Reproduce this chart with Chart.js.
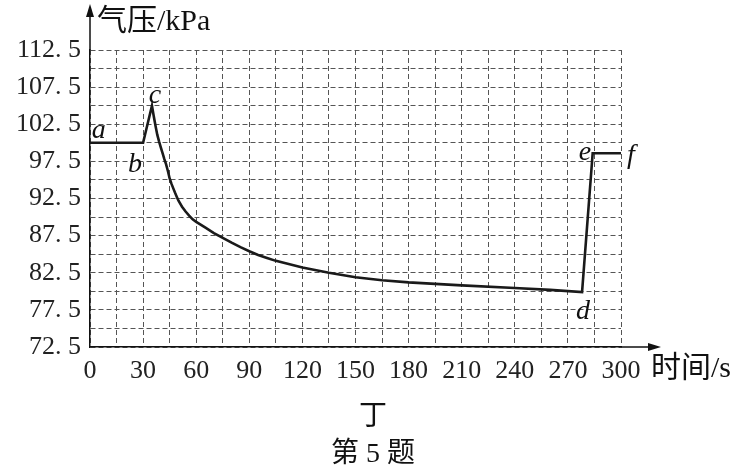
<!DOCTYPE html>
<html>
<head>
<meta charset="utf-8">
<script src="https://cdn.jsdelivr.net/npm/chart.js@4.4.1/dist/chart.umd.min.js"></script>
<style>
  body { margin: 0; background: #fff; }
  #wrap { width: 750px; height: 471px; }
</style>
</head>
<body>
<div id="wrap"><canvas id="pressureChart"></canvas></div>
<script>
// time (s) and pressure (kPa)
const timeSec = [0, 30, 35, 36, 37, 38, 39, 40, 41, 42, 43, 44, 45, 46, 47, 48, 49, 50, 52, 54, 56, 58, 60, 65, 70, 75, 80, 85, 90, 95, 100, 105, 120, 135, 150, 165, 180, 195, 210, 240, 260, 278, 284, 300];
const pressureKpa = [100, 100, 105, 103.6, 102.3, 101.1, 100.2, 99.4, 98.6, 97.8, 97.1, 96.2, 95.2, 94.5, 93.9, 93.3, 92.75, 92.2, 91.4, 90.75, 90.2, 89.7, 89.35, 88.6, 87.85, 87.2, 86.55, 85.95, 85.4, 84.9, 84.5, 84.1, 83.2, 82.5, 81.9, 81.5, 81.2, 81.0, 80.8, 80.45, 80.2, 79.9, 98.6, 98.6];

const xTickLabels = ['0', '30', '60', '90', '120', '150', '180', '210', '240', '270', '300'];
const yTickLabels = ['72. 5', '77. 5', '82. 5', '87. 5', '92. 5', '97. 5', '102. 5', '107. 5', '112. 5'];

// letters next to the turning points, placed in data units
const pointNames = ['a', 'b', 'c', 'd', 'e', 'f'];
const pointNameAt = [[5, 101.6], [25.4, 97.0], [36.7, 106.3], [278.5, 77.2], [279.7, 98.7], [305.6, 98.3]];

const numFont = "'Liberation Serif', 'DejaVu Serif', serif";
const cjkFont = "'Liberation Serif', 'Noto Sans CJK SC', serif";

const axisExtras = {
    id: 'axisExtras',
    afterDraw(chart) {
        const ctx = chart.ctx;
        const { left, top, right, bottom } = chart.chartArea;
        const xs = chart.scales.x, ys = chart.scales.y;
        ctx.save();
        ctx.strokeStyle = '#111';
        ctx.fillStyle = '#111';
        ctx.lineWidth = 1.5;
        // axis extensions + arrow heads
        ctx.beginPath();
        ctx.moveTo(left, top);
        ctx.lineTo(left, 14);
        ctx.moveTo(right, bottom);
        ctx.lineTo(652, bottom);
        ctx.stroke();
        ctx.beginPath();
        ctx.moveTo(left, 4);
        ctx.lineTo(left - 4, 17);
        ctx.lineTo(left + 4, 17);
        ctx.closePath();
        ctx.fill();
        ctx.beginPath();
        ctx.moveTo(661, bottom);
        ctx.lineTo(648, bottom - 4);
        ctx.lineTo(648, bottom + 4);
        ctx.closePath();
        ctx.fill();

        // axis titles and caption
        ctx.font = '30px ' + cjkFont;
        ctx.textBaseline = 'middle';
        ctx.textAlign = 'left';
        ctx.fillText('气压/kPa', 97, 22);
        ctx.fillText('时间/s', 651, 369);
        ctx.font = '28px ' + cjkFont;
        ctx.textAlign = 'center';
        ctx.fillText('丁', 373, 418);
        ctx.fillText('第 5 题', 373, 455);

        // point letters
        ctx.font = 'italic 28px ' + numFont;
        pointNames.forEach((name, i) => {
            const px = xs.getPixelForValue(pointNameAt[i][0]);
            const py = ys.getPixelForValue(pointNameAt[i][1]);
            ctx.fillText(name, px, py);
        });
        ctx.restore();
    }
};

const ctx = document.getElementById('pressureChart').getContext('2d');
const pressureChart = new Chart(ctx, {
    type: 'line',
    data: {
        datasets: [{
            data: timeSec.map((t, i) => ({ x: t, y: pressureKpa[i] })),
            borderColor: '#1a1a1a',
            borderWidth: 2.6,
            pointRadius: 0,
            tension: 0,
            fill: false
        }]
    },
    options: {
        responsive: true,
        maintainAspectRatio: false,
        animation: false,
        layout: { padding: { top: 50, right: 129, left: 0, bottom: 0 } },
        plugins: { legend: { display: false }, tooltip: { enabled: false } },
        scales: {
            x: {
                type: 'linear',
                min: 0,
                max: 300,
                afterFit(scale) { scale.height = 124; },
                afterBuildTicks(scale) {
                    scale.ticks = [];
                    for (let v = 0; v <= 300; v += 15) scale.ticks.push({ value: v });
                },
                ticks: {
                    autoSkip: false,
                    maxRotation: 0,
                    padding: 9,
                    color: '#222',
                    font: { family: numFont, size: 26 },
                    callback: (v) => (v % 30 === 0 ? xTickLabels[v / 30] : '')
                },
                grid: { color: '#555', lineWidth: 1, drawTicks: false },
                border: { color: '#111', width: 1.5, dash: [5, 3] }
            },
            y: {
                type: 'linear',
                min: 72.5,
                max: 112.5,
                afterFit(scale) { scale.width = 90; },
                afterBuildTicks(scale) {
                    scale.ticks = [];
                    for (let v = 72.5; v <= 112.5; v += 2.5) scale.ticks.push({ value: v });
                },
                ticks: {
                    autoSkip: false,
                    padding: 9,
                    color: '#222',
                    font: { family: numFont, size: 26 },
                    callback: (v) => {
                        const k = (v - 72.5) / 5;
                        return Math.abs(k - Math.round(k)) < 1e-6 ? yTickLabels[Math.round(k)] : '';
                    }
                },
                grid: { color: '#555', lineWidth: 1, drawTicks: false },
                border: { color: '#111', width: 1.5, dash: [5, 3] }
            }
        }
    },
    plugins: [axisExtras]
});
</script>
</body>
</html>
